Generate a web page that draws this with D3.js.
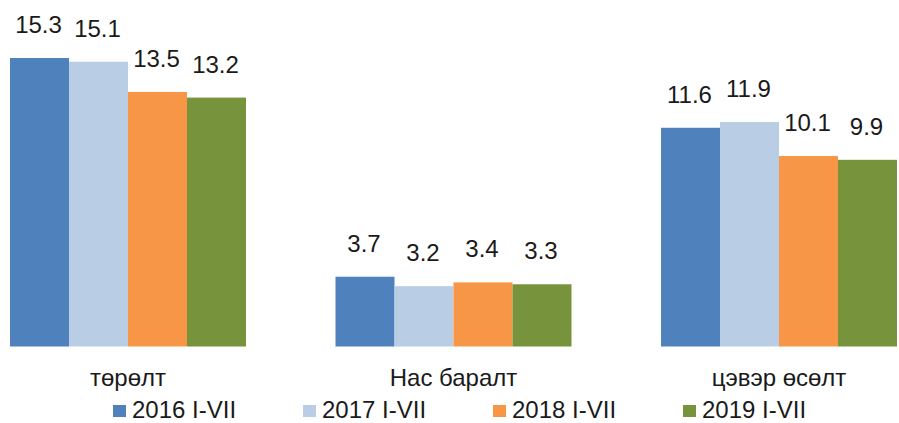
<!DOCTYPE html>
<html><head><meta charset="utf-8">
<script src="https://cdn.jsdelivr.net/npm/d3@7"></script>
<style>body{margin:0;background:#fff}svg{display:block}text{font-family:"Liberation Sans",Arial,sans-serif;fill:#1a1a1a}</style>
</head><body><svg id="c" width="899" height="423"></svg>
<script>
const categories = ["төрөлт", "Нас баралт", "цэвэр өсөлт"];
const seriesNames = ["2016 I-VII", "2017 I-VII", "2018 I-VII", "2019 I-VII"];
const v2016 = [15.3, 3.7, 11.6];
const v2017 = [15.1, 3.2, 11.9];
const v2018 = [13.5, 3.4, 10.1];
const v2019 = [13.2, 3.3, 9.9];
const colors = ["#4F81BD", "#B9CDE5", "#F79646", "#77933C"];

const series = [v2016, v2017, v2018, v2019];
const svg = d3.select("#c");
const baseY = 346.5;
const y = d3.scaleLinear().domain([0, 15.3]).range([baseY, 58]);
const x0 = d3.scaleBand().domain(categories).range([-34.75, 941.75]).paddingInner(0.275).paddingOuter(0.1375);
const x1 = d3.scaleBand().domain(seriesNames).range([0, x0.bandwidth()]);

const g = svg.append("g");
categories.forEach((c, ci) => {
  seriesNames.forEach((s, si) => {
    const val = series[si][ci];
    const bx = x0(c) + x1(s);
    g.append("rect").attr("x", bx).attr("y", y(val)).attr("width", x1.bandwidth()).attr("height", baseY - y(val)).attr("fill", colors[si]);
    g.append("text").attr("x", bx + x1.bandwidth() / 2 - 1).attr("y", y(val) - 25).attr("text-anchor", "middle").attr("font-size", 24).text(val.toFixed(1));
  });
  g.append("text").attr("x", x0(c) + x0.bandwidth() / 2).attr("y", 386).attr("text-anchor", "middle").attr("font-size", 24).text(c);
});

const lg = svg.append("g");
seriesNames.forEach((s, i) => {
  const lx = 113 + i * 190;
  lg.append("rect").attr("x", lx).attr("y", 405).attr("width", 13).attr("height", 12).attr("fill", colors[i]);
  lg.append("text").attr("x", lx + 19).attr("y", 418).attr("font-size", 24).text(s);
});
</script></body></html>
